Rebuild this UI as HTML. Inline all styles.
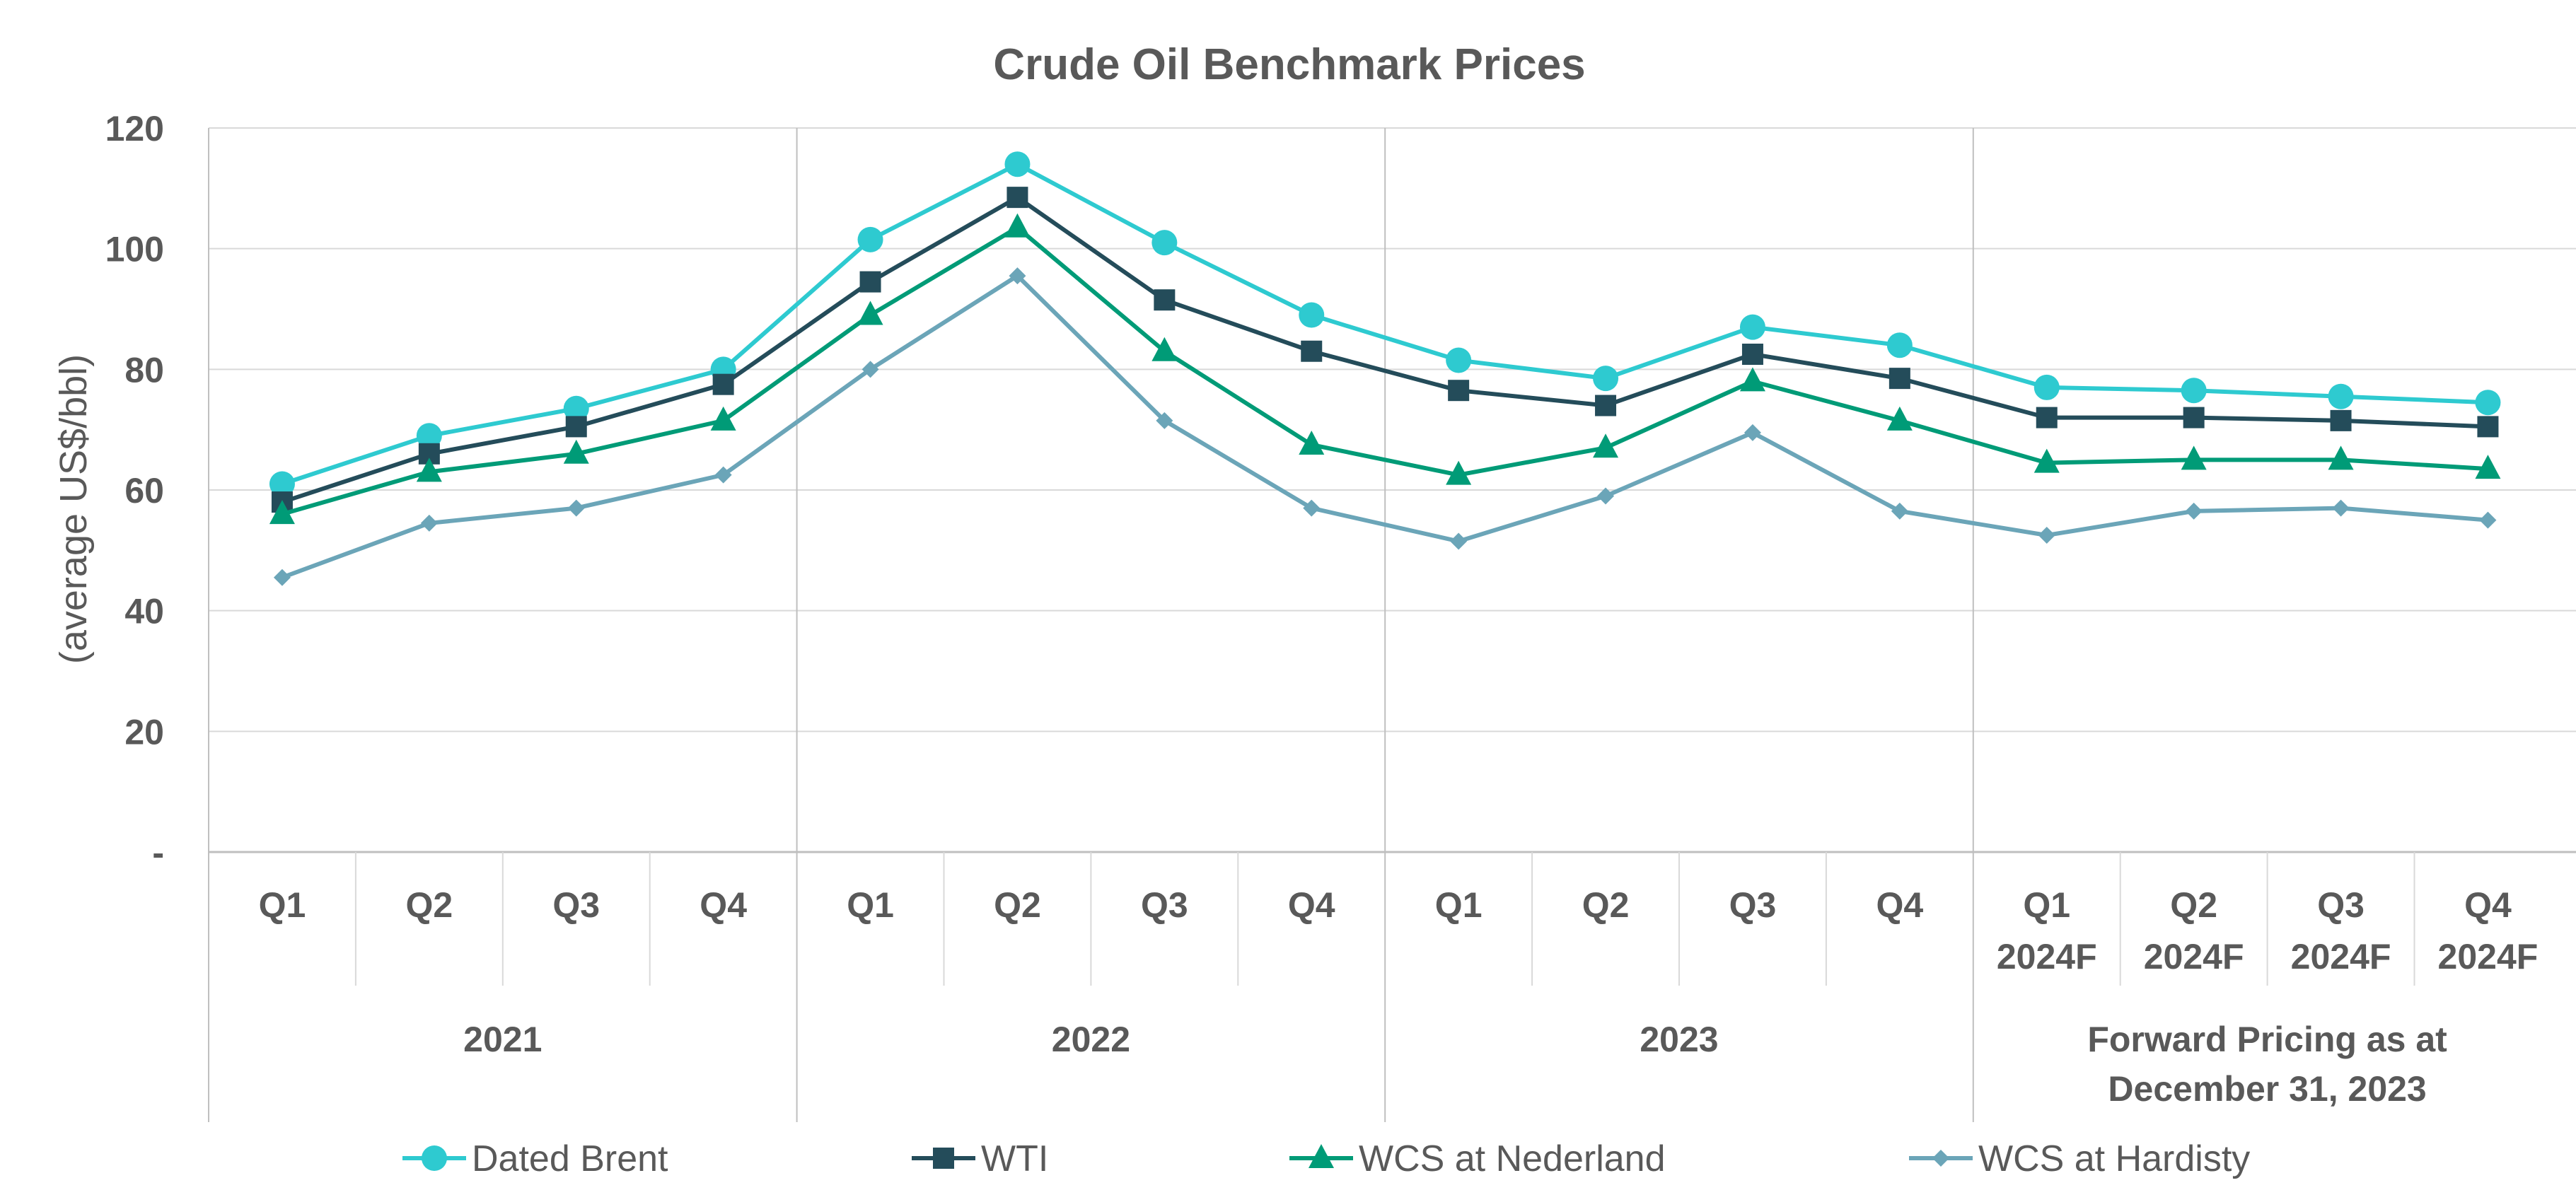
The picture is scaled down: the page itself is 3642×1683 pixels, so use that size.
<!DOCTYPE html>
<html><head><meta charset="utf-8"><style>
html,body{margin:0;padding:0;background:#fff;}
svg{display:block;font-family:"Liberation Sans",sans-serif;}
</style></head><body>
<svg id="chart" width="3642" height="1683" viewBox="0 0 3642 1683" xmlns="http://www.w3.org/2000/svg">
<text x="1823" y="112" text-anchor="middle" font-size="62" font-weight="bold" fill="#595959">Crude Oil Benchmark Prices</text>
<text transform="translate(122,720) rotate(-90)" text-anchor="middle" font-size="54" fill="#595959">(average US$/bbl)</text>
<g id="grid"></g><g id="axes"></g><g id="series"></g><g id="legend"></g>
</svg>
<script>
const quarters=["Q1","Q2","Q3","Q4","Q1","Q2","Q3","Q4","Q1","Q2","Q3","Q4","Q1","Q2","Q3","Q4"];
const quarterSub=["","","","","","","","","","","","","2024F","2024F","2024F","2024F"];
const groups=[["2021"],["2022"],["2023"],["Forward Pricing as at","December 31, 2023"]];
const yTicks=[0,20,40,60,80,100,120];
const yTickLabels=["-","20","40","60","80","100","120"];
const seriesNames=["Dated Brent","WTI","WCS at Nederland","WCS at Hardisty"];
const brent=[61,69,73.5,80,101.5,114,101,89,81.5,78.5,87,84,77,76.5,75.5,74.5];
const wti=[58,66,70.5,77.5,94.5,108.5,91.5,83,76.5,74,82.5,78.5,72,72,71.5,70.5];
const nederland=[56,63,66,71.5,89,103.5,83,67.5,62.5,67,78,71.5,64.5,65,65,63.5];
const hardisty=[45.5,54.5,57,62.5,80,95.5,71.5,57,51.5,59,69.5,56.5,52.5,56.5,57,55];

const NS="http://www.w3.org/2000/svg";
const L=295,CW=207.9,Y0=1205,Y120=181;
const x=i=>L+(i+0.5)*CW;
const y=v=>Y0-(v/120)*(Y0-Y120);
function mk(tag,attrs,parent){const e=document.createElementNS(NS,tag);for(const k in attrs)e.setAttribute(k,attrs[k]);parent.appendChild(e);return e;}
const grid=document.getElementById('grid'),axes=document.getElementById('axes'),ser=document.getElementById('series'),leg=document.getElementById('legend');
yTicks.forEach((t,i)=>{
 if(t>0){const g=mk('line',{x1:L,x2:3642,y1:y(t),y2:y(t),stroke:'#d9d9d9','stroke-width':2},grid);
 
 }
 const tx=mk('text',{x:232,y:y(t)+18,'text-anchor':'end','font-size':50,'font-weight':'bold',fill:'#595959'},axes);
 tx.textContent=yTickLabels[i];
 
 
});
const ax=mk('line',{x1:L,x2:3642,y1:Y0,y2:Y0,stroke:'#bfbfbf','stroke-width':3},axes);


for(let i=0;i<quarters.length;i++){
 const major=i%4===0;
 const ln=mk('line',{x1:L+i*CW,x2:L+i*CW,y1:major?Y120:Y0,y2:major?1587:1394,stroke:major?'#bfbfbf':'#d9d9d9','stroke-width':2},axes);
 
 
}
quarters.forEach((q,i)=>{
 const t=mk('text',{x:x(i),y:1297,'text-anchor':'middle','font-size':50,'font-weight':'bold',fill:'#595959'},axes);
 t.textContent=q;
 
 
 if(quarterSub[i]){const s=mk('text',{x:x(i),y:1370,'text-anchor':'middle','font-size':50,'font-weight':'bold',fill:'#595959'},axes);
 s.textContent=quarterSub[i];
 
 }
});
groups.forEach((g,gi)=>{
 g.forEach((line,li)=>{const t=mk('text',{x:L+(gi*4+2)*CW,y:1487+li*70,'text-anchor':'middle','font-size':50,'font-weight':'bold',fill:'#595959'},axes);
 t.textContent=line;
 
 });
});
const colors=["#2ECAD0","#244C5A","#009B77","#6BA5B8"];
const data=[brent,wti,nederland,hardisty];
function marker(k,cx,cy,p){
 let m;
 if(k===0)m=mk('circle',{cx:cx,cy:cy,r:18,fill:colors[k]},p);
 else if(k===1)m=mk('rect',{x:cx-15,y:cy-15,width:30,height:30,fill:colors[k]},p);
 else if(k===2)m=mk('polygon',{points:`${cx},${cy-20} ${cx+18},${cy+14} ${cx-18},${cy+14}`,fill:colors[k]},p);
 else m=mk('polygon',{points:`${cx},${cy-12} ${cx+12},${cy} ${cx},${cy+12} ${cx-12},${cy}`,fill:colors[k]},p);
 return m;
}
data.forEach((d,k)=>{
 const pl=mk('polyline',{points:d.map((v,i)=>x(i)+','+y(v)).join(' '),fill:'none',stroke:colors[k],'stroke-width':6,'stroke-linejoin':'round'},ser);
 
 
 d.forEach((v,i)=>{const m=marker(k,x(i),y(v),ser);
 
 });
});
const lx=[569,1289,1823,2699];
seriesNames.forEach((n,k)=>{
 const g=mk('g',{},leg);
 
 
 mk('line',{x1:lx[k],x2:lx[k]+90,y1:1638,y2:1638,stroke:colors[k],'stroke-width':6},g);
 marker(k,lx[k]+45,1638,g);
 const t=mk('text',{x:lx[k]+98,y:1656,'font-size':52,fill:'#595959'},g);
 t.textContent=n;
});
</script>
</body></html>
